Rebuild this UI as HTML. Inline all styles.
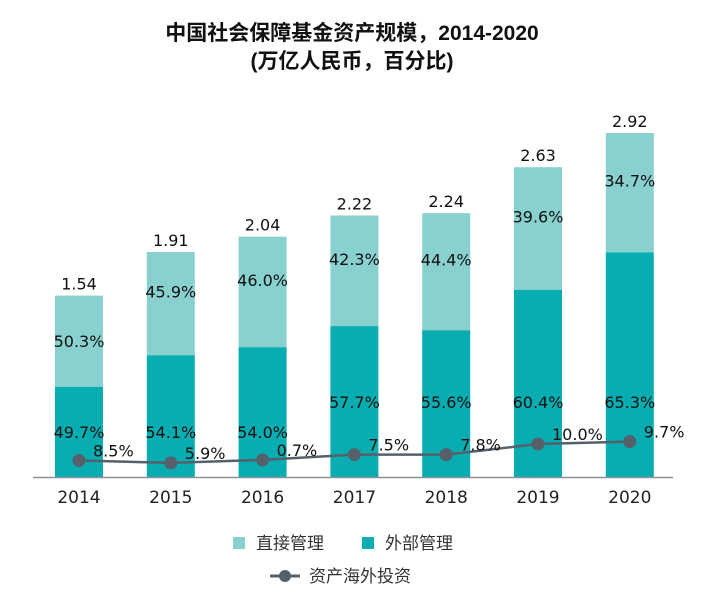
<!DOCTYPE html>
<html><head><meta charset="utf-8"><style>
body{margin:0;background:#fff;}
svg{display:block;font-family:"DejaVu Sans","Liberation Sans","Noto Sans CJK SC",sans-serif;}
</style></head><body>
<svg id="chart" width="702" height="606" viewBox="0 0 702 606">
<text x="352" y="40" text-anchor="middle" font-size="21" font-weight="bold" fill="#111" font-family="'Liberation Sans','Noto Sans CJK SC',sans-serif">中国社会保障基金资产规模，2014-2020</text>
<text x="352" y="68" text-anchor="middle" font-size="21" font-weight="bold" fill="#111" font-family="'Liberation Sans','Noto Sans CJK SC',sans-serif">(万亿人民币，百分比)</text>
<g id="bars"></g>
<line x1="33" y1="477.5" x2="673" y2="477.5" stroke="#8a9299" stroke-width="1.5"/>
<g id="line"></g>
<g id="labels"></g>
<g>
<rect x="233" y="537" width="12" height="12" fill="#88d1cf"/>
<text x="256" y="549" font-size="17" fill="#333" font-family="'Noto Sans CJK SC',sans-serif">直接管理</text>
<rect x="362" y="537" width="12" height="12" fill="#07adb0"/>
<text x="385" y="549" font-size="17" fill="#333" font-family="'Noto Sans CJK SC',sans-serif">外部管理</text>
<line x1="270" y1="576" x2="300" y2="576" stroke="#56606a" stroke-width="3"/>
<circle cx="285" cy="576" r="6" fill="#56606a"/>
<text x="309" y="582" font-size="17" fill="#333" font-family="'Noto Sans CJK SC',sans-serif">资产海外投资</text>
</g>
</svg>
<script>
const years=["2014","2015","2016","2017","2018","2019","2020"];
const totals=[1.54,1.91,2.04,2.22,2.24,2.63,2.92];
const directPct=[50.3,45.9,46.0,42.3,44.4,39.6,34.7];
const externalPct=[49.7,54.1,54.0,57.7,55.6,60.4,65.3];
const overseasPct=[8.5,5.9,0.7,7.5,7.8,10.0,9.7];
const overseasLevel=[0.14,0.12,0.145,0.19,0.19,0.28,0.30];
const NS="http://www.w3.org/2000/svg";
const base=477, perUnit=117.8, x0=79, step=91.8, bw=48;
const xs=i=>x0+i*step;
const ys=v=>base-v*perUnit;
function mk(tag,attrs,parent,txt){const e=document.createElementNS(NS,tag);for(const k in attrs)e.setAttribute(k,attrs[k]);if(txt!==undefined)e.textContent=txt;parent.appendChild(e);return e;}
const gb=document.getElementById('bars'),gl=document.getElementById('line'),gt=document.getElementById('labels');
years.forEach((y,i)=>{
  const x=xs(i),tot=totals[i];
  const extH=tot*externalPct[i]/(externalPct[i]+directPct[i]);
  const top=ys(tot),mid=ys(extH);
  const r1=mk('rect',{x:x-bw/2,y:top,width:bw,height:mid-top,fill:'#88d1cf'},gb);
  
  
  const r2=mk('rect',{x:x-bw/2,y:mid,width:bw,height:base-mid,fill:'#07adb0'},gb);
  
  
  const t1=mk('text',{x:x,y:top-6,'text-anchor':'middle','font-size':16,fill:'#111'},gt,tot.toFixed(2));
  
  
  let ly=(top+mid)/2; if(mid-top>100) ly-=12;
  const t2=mk('text',{x:x,y:ly+6,'text-anchor':'middle','font-size':16,fill:'#111'},gt,directPct[i].toFixed(1)+'%');
  
  
  const dy=(base-mid)<140?432:402;
  const t3=mk('text',{x:x,y:dy+6,'text-anchor':'middle','font-size':16,fill:'#111'},gt,externalPct[i].toFixed(1)+'%');
  
  
  const tx=mk('text',{x:x,y:503,'text-anchor':'middle','font-size':17,fill:'#222'},gt,y);
  
  
});
const pts=overseasLevel.map((v,i)=>[xs(i),ys(v)]);
const pl=mk('polyline',{points:pts.map(p=>p.join(',')).join(' '),fill:'none',stroke:'#56606a','stroke-width':2.5},gl);


pts.forEach((p,i)=>{
  const c=mk('circle',{cx:p[0],cy:p[1],r:6.5,fill:'#56606a'},gl);
  
  
  const t=mk('text',{x:p[0]+14,y:p[1]-4,'font-size':16,fill:'#111'},gt,overseasPct[i].toFixed(1)+'%');
  
  
});
</script>
</body></html>
